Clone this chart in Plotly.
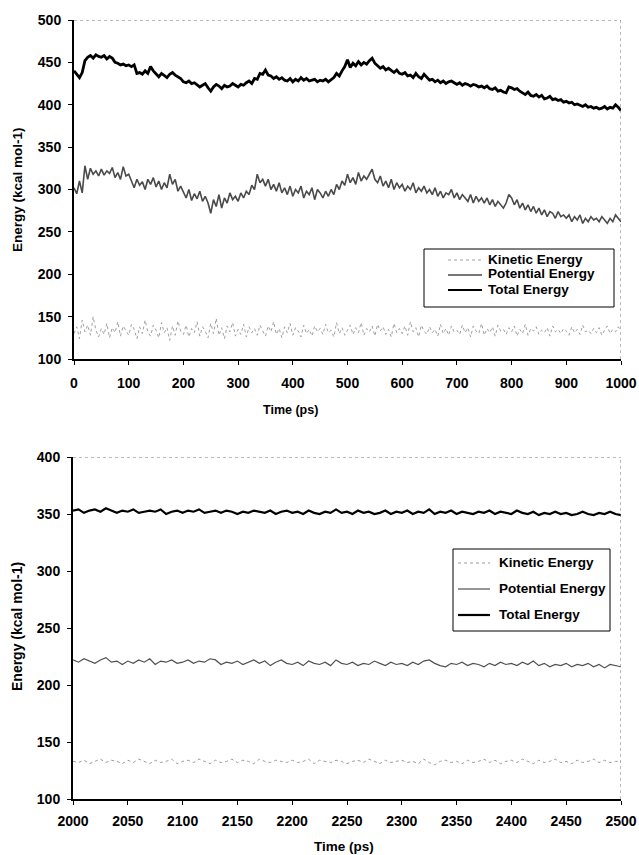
import plotly.graph_objects as go

# ---------------- data ----------------
time_top = list(range(0, 1001, 5))
total_top = [
    440,436,432,438,452,456,458,455,459,457,
    456,458,454,457,455,450,449,447,448,446,
    447,445,447,437,438,436,440,437,445,440,
    436,433,437,434,432,436,438,435,433,431,
    427,426,428,425,426,424,421,423,425,420,
    416,421,424,422,419,423,421,422,425,423,
    421,424,423,426,428,425,431,430,437,436,
    441,435,434,431,433,430,432,429,428,431,
    427,430,428,432,429,431,428,429,430,427,
    429,428,430,427,429,432,437,434,440,445,
    453,444,449,446,451,447,450,448,452,455,
    449,446,443,445,441,443,440,438,441,437,
    436,438,434,435,432,437,433,431,436,432,
    429,430,427,429,426,428,425,427,428,426,
    424,426,423,425,424,422,424,423,421,422,
    420,422,419,418,420,416,417,415,414,421,
    420,418,419,416,414,412,415,411,410,412,
    409,411,407,408,410,406,407,405,406,403,
    404,402,403,400,401,399,398,400,397,398,
    396,397,395,396,398,395,397,396,400,397,
    393]
potential_top = [
    302,295,310,296,328,312,325,318,322,316,
    324,317,322,319,326,314,320,312,327,316,
    318,310,302,312,305,309,300,312,306,314,
    303,310,300,308,302,318,306,312,298,304,
    296,290,300,287,295,289,298,286,292,284,
    272,288,280,294,278,290,284,296,288,292,
    286,296,290,298,294,305,300,318,308,312,
    304,312,300,306,298,308,296,302,294,304,
    292,300,296,304,290,298,294,302,288,300,
    296,290,298,292,300,294,306,300,310,305,
    318,308,314,306,320,310,316,312,318,324,
    312,308,316,304,310,302,312,300,308,302,
    306,298,304,300,308,296,302,298,304,296,
    300,294,302,292,298,290,296,294,300,290,
    296,288,294,290,286,294,284,292,286,290,
    284,290,282,288,280,286,282,278,284,294,
    290,282,288,278,284,276,282,274,280,272,
    278,270,276,268,274,272,266,274,268,270,
    266,270,262,268,264,270,260,266,262,268,
    264,266,262,268,264,260,266,262,270,266,
    262]
kinetic_top = [
    130,138,124,146,132,140,128,150,134,126,
    136,129,142,125,137,131,144,127,139,133,
    128,141,135,124,138,130,146,132,127,140,
    134,125,143,131,137,122,139,128,145,133,
    129,140,126,136,131,144,127,138,133,125,
    142,130,148,128,137,124,139,132,143,127,
    135,129,141,126,138,131,136,128,140,133,
    127,139,132,144,129,136,125,138,131,142,
    128,137,133,126,140,130,135,127,139,132,
    136,129,141,131,134,126,143,130,137,128,
    135,140,129,137,131,143,128,136,132,139,
    127,141,133,138,129,135,126,142,131,136,
    130,139,128,144,132,137,126,140,133,129,
    138,131,135,127,141,130,136,128,139,132,
    134,129,140,131,137,126,139,133,130,142,
    128,136,131,138,127,140,133,135,129,137,
    132,139,127,135,130,141,128,136,133,138,
    129,134,131,137,127,139,132,135,130,136,
    133,128,138,131,135,129,140,132,134,130,
    136,131,137,128,134,139,130,135,132,138,
    133]

time_bot = list(range(2000, 2501, 5))
total_bot = [
    353,354,351,353,354,352,355,353,351,353,
    352,354,351,352,353,352,354,350,352,353,
    351,353,352,354,351,352,353,351,353,352,
    350,352,351,353,352,351,353,350,352,353,
    351,352,350,353,351,350,352,351,354,351,
    352,350,353,351,352,350,351,353,350,352,
    351,353,350,352,351,354,350,352,351,353,
    350,352,351,350,352,351,353,350,352,351,
    350,353,351,350,352,349,351,350,352,350,
    351,349,350,352,350,349,351,350,352,350,
    349]
potential_bot = [
    222,220,223,221,219,222,224,220,221,218,
    221,219,222,220,223,218,221,220,222,219,
    220,222,219,221,220,223,222,218,220,219,
    221,218,220,222,219,221,217,220,222,219,
    218,220,217,221,219,218,220,217,222,219,
    218,220,217,219,218,221,219,217,220,218,
    219,217,220,218,221,222,219,217,216,219,
    218,220,217,219,218,216,219,217,220,218,
    219,217,220,218,221,217,219,216,218,217,
    219,216,218,217,219,216,218,215,218,217,
    216]
kinetic_bot = [
    133,132,134,131,133,135,132,134,133,131,
    134,132,135,133,131,134,132,133,135,131,
    133,134,132,135,133,131,134,132,133,135,
    132,134,133,131,135,133,132,134,133,132,
    134,132,133,135,131,134,133,132,134,133,
    131,133,134,132,135,133,131,134,132,133,
    134,132,133,131,135,132,130,133,134,132,
    133,131,134,132,133,135,132,134,131,133,
    134,132,135,133,131,134,132,133,135,132,
    133,131,134,132,133,135,132,134,132,133,
    133]

series_names = ["Kinetic Energy", "Potential Energy", "Total Energy"]
x_title = "Time (ps)"
y_title = "Energy (kcal mol-1)"

# ---------------- styles ----------------
FONT = "Liberation Sans, Arial, sans-serif"
W, H = 639, 855
styles_top = [
    dict(color="#a0a0a0", width=1, dash="dot"),
    dict(color="#4a4a4a", width=1.6),
    dict(color="#000000", width=2.8),
]
styles_bot = [
    dict(color="#9a9a9a", width=1, dash="dot"),
    dict(color="#505050", width=1.2),
    dict(color="#000000", width=2.2),
]

fig = go.Figure()
for name, ys, st in zip(series_names, [kinetic_top, potential_top, total_top], styles_top):
    fig.add_trace(go.Scatter(x=time_top, y=ys, mode="lines", name=name,
                             line=st, xaxis="x", yaxis="y", showlegend=False))
for name, ys, st in zip(series_names, [kinetic_bot, potential_bot, total_bot], styles_bot):
    fig.add_trace(go.Scatter(x=time_bot, y=ys, mode="lines", name=name,
                             line=st, xaxis="x2", yaxis="y2", showlegend=False))

tickfont = dict(family=FONT, size=14, color="black", weight="bold")
axis_common = dict(showgrid=False, zeroline=False, ticks="outside", ticklen=4,
                   tickwidth=1, tickcolor="black", showline=True, linecolor="black",
                   linewidth=2, tickfont=tickfont, automargin=False, fixedrange=True)

fig.update_layout(
    width=W, height=H,
    margin=dict(l=0, r=0, t=0, b=0),
    paper_bgcolor="white", plot_bgcolor="white",
    showlegend=False,
    xaxis=dict(domain=[74/W, 621/W], range=[0, 1000], dtick=100, anchor="y",
               ticklabelstandoff=6, **axis_common),
    yaxis=dict(domain=[1-359/H, 1-20/H], range=[100, 500], dtick=50, anchor="x",
               ticklabelstandoff=4, **axis_common),
    xaxis2=dict(domain=[73/W, 621/W], range=[2000, 2500], dtick=50, anchor="y2",
                ticklabelstandoff=4, **axis_common),
    yaxis2=dict(domain=[1-799/H, 1-457/H], range=[100, 400], dtick=50, anchor="x2",
                ticklabelstandoff=4, **axis_common),
)

# dotted top/right frame
border = dict(color="#777777", width=1, dash="dot")
for xr, yr, x0, x1, y0, y1 in [("x", "y", 0, 1000, 100, 500), ("x2", "y2", 2000, 2500, 100, 400)]:
    fig.add_shape(type="line", xref=xr, yref=yr, x0=x0, x1=x1, y0=y1, y1=y1, line=border)
    fig.add_shape(type="line", xref=xr, yref=yr, x0=x1, x1=x1, y0=y0, y1=y1, line=border)

# legends (drawn as boxes with sample lines and text)
def px(x):
    return x / W

def py(y):
    return 1 - y / H

legend_specs = [
    # box (x0, y0, x1, y1), sample x0, x1, text x, rows y, styles
    ((424, 249, 614, 307), 448, 482, 486, [259, 274, 289], styles_top),
    ((453, 549, 610, 631), 458, 490, 497, [562, 588, 614], styles_bot),
]
leg_font = dict(family=FONT, size=13.5, color="black", weight="bold")
for (bx0, by0, bx1, by1), sx0, sx1, tx, rows, sts in legend_specs:
    fig.add_shape(type="rect", xref="paper", yref="paper",
                  x0=px(bx0), x1=px(bx1), y0=py(by1), y1=py(by0),
                  line=dict(color="black", width=1), fillcolor="white", layer="above")
    for name, ry, st in zip(series_names, rows, sts):
        fig.add_shape(type="line", xref="paper", yref="paper",
                      x0=px(sx0), x1=px(sx1), y0=py(ry + 1), y1=py(ry + 1),
                      line=dict(color=st["color"], width=min(st["width"], 2.2),
                                dash=st.get("dash", "solid")), layer="above")
        fig.add_annotation(x=px(tx), y=py(ry), xref="paper", yref="paper", text=name,
                           xanchor="left", yanchor="middle", showarrow=False, font=leg_font)

lab = dict(family=FONT, color="black", weight="bold")
fig.add_annotation(x=px(17), y=py(190), xref="paper", yref="paper", text=y_title,
                   textangle=-90, xanchor="center", yanchor="middle", showarrow=False,
                   font=dict(size=13.5, **lab))
fig.add_annotation(x=px(17), y=py(627), xref="paper", yref="paper", text=y_title,
                   textangle=-90, xanchor="center", yanchor="middle", showarrow=False,
                   font=dict(size=14, **lab))
fig.add_annotation(x=px(290), y=py(410), xref="paper", yref="paper", text=x_title,
                   xanchor="center", yanchor="middle", showarrow=False,
                   font=dict(size=12.5, **lab))
fig.add_annotation(x=px(344), y=py(846), xref="paper", yref="paper", text=x_title,
                   xanchor="center", yanchor="middle", showarrow=False,
                   font=dict(size=13.5, **lab))

fig.write_html("out.html")
